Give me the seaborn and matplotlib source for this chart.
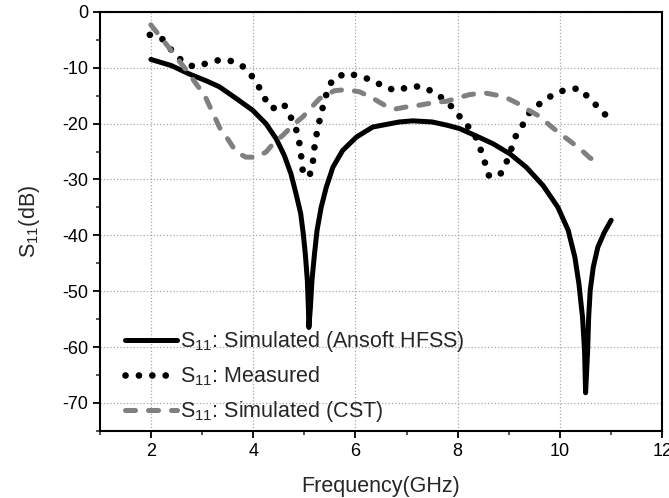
import numpy as np
import pandas as pd
import seaborn as sns
import matplotlib.pyplot as plt
from matplotlib.ticker import MultipleLocator

# S11
hfss_freq = [2.0, 2.4, 2.75, 3.1, 3.34, 3.67, 3.99, 4.25, 4.45, 4.61, 4.74, 4.84, 4.93, 4.98, 5.02, 5.06, 5.08, 5.09,
             5.12, 5.15, 5.2, 5.25, 5.33, 5.43, 5.56, 5.75, 6.02, 6.34, 6.86, 7.12, 7.5, 7.8,
             8.04, 8.36, 8.69, 9.02, 9.34, 9.67, 9.96, 10.16, 10.29, 10.37, 10.44, 10.48, 10.5,
             10.54, 10.56, 10.59, 10.65, 10.74, 10.87, 11.0]
hfss_s11 = [-8.5, -9.6, -11.1, -12.4, -13.4, -15.5, -17.6, -20.0, -22.7, -25.7, -29.0, -32.6, -36.1, -39.7, -43.3, -48.1, -52.9, -56.5,
            -52.9, -48.1, -43.3, -39.1, -35.0, -31.4, -27.8, -24.8, -22.4, -20.6, -19.7, -19.5, -19.7, -20.3,
            -20.9, -22.2, -23.6, -25.4, -27.8, -31.1, -35.0, -39.1, -43.9, -48.7, -54.7, -60.7, -68.2,
            -60.7, -54.7, -49.9, -45.7, -42.1, -39.4, -37.3]

meas_freq = [1.98, 2.22, 2.40, 2.58, 2.83, 3.10, 3.38, 3.64, 3.86, 4.05, 4.19, 4.31, 4.45, 4.60, 4.75,
             4.86, 4.92, 4.95, 4.98, 5.11, 5.17, 5.20, 5.25, 5.31, 5.38, 5.46, 5.56, 5.84, 6.09, 6.34,
             6.57, 6.82, 7.07, 7.32, 7.57, 7.80, 7.98, 8.16, 8.34, 8.45, 8.54, 8.61, 8.82, 8.95, 9.05,
             9.14, 9.28, 9.40, 9.62, 9.85, 10.11, 10.37, 10.58, 10.77, 10.97]
meas_s11 = [-4.1, -4.8, -6.8, -8.5, -9.8, -9.2, -8.5, -8.9, -10.1, -12.4, -14.7, -17.0, -17.3, -16.5, -19.1,
            -21.5, -24.2, -26.7, -29.3, -29.1, -26.7, -24.2, -21.4, -19.0, -16.4, -13.9, -12.0, -10.9, -11.6, -12.2,
            -13.5, -14.1, -13.3, -13.4, -14.6, -16.1, -18.1, -20.0, -22.1, -24.7, -27.2, -29.3, -29.3, -27.0, -24.5,
            -22.1, -20.1, -18.1, -16.3, -14.9, -13.9, -13.7, -15.5, -17.3, -19.2]

cst_freq = [2.0, 2.39, 2.59, 2.72, 2.88, 3.05, 3.37, 3.50, 3.67, 3.86, 4.06, 4.25, 4.42, 4.58, 4.81,
            4.97, 5.15, 5.30, 5.59, 5.82, 6.08, 6.31, 6.57, 6.77, 7.06, 7.25, 7.55, 7.78, 8.04, 8.23,
            8.53, 8.76, 8.98, 9.18, 9.39, 9.60, 9.80, 9.96, 10.22, 10.39, 10.58, 10.76]
cst_s11 = [-2.3, -6.8, -9.2, -10.7, -12.8, -14.9, -21.2, -22.7, -25.1, -26.0, -26.0, -25.1, -23.3, -22.1, -20.0,
           -18.8, -17.0, -15.5, -14.1, -13.9, -14.3, -15.3, -16.7, -17.4, -16.9, -16.7, -16.2, -16.0, -15.3, -14.8,
           -14.5, -14.9, -15.5, -16.4, -17.6, -18.7, -20.3, -21.5, -23.3, -24.5, -26.1, -27.1]

labels = ['S$_{11}$: Simulated (Ansoft HFSS)', 'S$_{11}$: Measured', 'S$_{11}$: Simulated (CST)']

sns.set_style('ticks')
plt.rcParams['font.family'] = ['Liberation Sans', 'DejaVu Sans']
plt.rcParams['mathtext.fontset'] = 'custom'
plt.rcParams['mathtext.rm'] = 'Liberation Sans'
plt.rcParams['mathtext.it'] = 'Liberation Sans'
plt.rcParams['axes.unicode_minus'] = False

fig = plt.figure(figsize=(6.69, 4.98), dpi=100)
ax = fig.add_axes([0.149, 0.135, 0.841, 0.841])

sns.lineplot(x=hfss_freq, y=hfss_s11, ax=ax, color='black', lw=3.6, sort=False,
             label=labels[0], solid_joinstyle='round')
sns.lineplot(x=meas_freq, y=meas_s11, ax=ax, color='black', lw=4.8, sort=False,
             label=labels[1], linestyle=(0, (0.01, 2.0)), dash_capstyle='round')
sns.lineplot(x=cst_freq, y=cst_s11, ax=ax, color='#808080', lw=3.6, sort=False,
             label=labels[2], linestyle=(0, (2.0, 2.6)), dash_capstyle='round')

ax.set_xlim(1, 12)
ax.set_ylim(-75, 0)
ax.xaxis.set_major_locator(MultipleLocator(2))
ax.xaxis.set_minor_locator(MultipleLocator(1))
ax.yaxis.set_major_locator(MultipleLocator(10))
ax.yaxis.set_minor_locator(MultipleLocator(5))
ax.grid(True, which='major', color='#a8a8a8', linestyle=':', lw=0.9)
ax.tick_params(which='major', direction='out', length=5, width=1.3, labelsize=13, colors='black')
ax.tick_params(which='minor', direction='out', length=3, width=1.1)
for s in ax.spines.values():
    s.set_linewidth(1.5)
    s.set_color('black')

ax.set_xlabel('Frequency(GHz)', fontsize=15.5, labelpad=12)
ax.set_ylabel('S$_{11}$(dB)', fontsize=15.5, labelpad=14)

ax.legend(loc='lower left', bbox_to_anchor=(0.03, -0.005), frameon=False, fontsize=15.5,
          handlelength=2.4, handletextpad=0.15, labelspacing=0.5, borderaxespad=0)

fig.savefig('out.png', dpi=100)
